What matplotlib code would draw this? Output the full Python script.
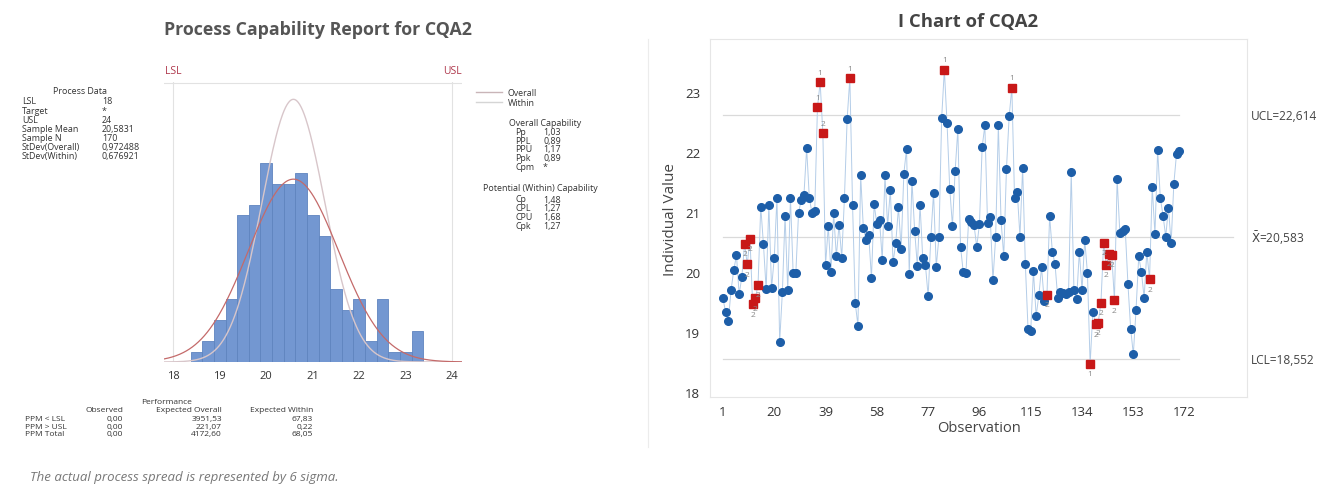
import numpy as np
import matplotlib
matplotlib.use("Agg")
import matplotlib.pyplot as plt

plt.rcParams['font.family'] = ['Open Sans', 'DejaVu Sans']

# --- data ---
# capability histogram
bin_start = 18.375
bin_width = 0.25
hist_counts = [1, 2, 4, 6, 14, 15, 19, 17, 17, 18, 14, 12, 7, 5, 6, 2, 6, 1, 1, 3]
lsl, usl = 18, 24
mean_all = 20.5831
sd_overall = 0.972488
sd_within = 0.676921
n_obs = 170

process_labels = ['LSL', 'Target', 'USL', 'Sample Mean', 'Sample N', 'StDev(Overall)', 'StDev(Within)']
process_values = ['18', '*', '24', '20,5831', '170', '0,972488', '0,676921']
overall_labels = ['Pp', 'PPL', 'PPU', 'Ppk', 'Cpm']
overall_values = ['1,03', '0,89', '1,17', '0,89', '*']
within_labels = ['Cp', 'CPL', 'CPU', 'Cpk']
within_values = ['1,48', '1,27', '1,68', '1,27']
perf_rows = ['PPM < LSL', 'PPM > USL', 'PPM Total']
perf_observed = ['0,00', '0,00', '0,00']
perf_exp_overall = ['3951,53', '221,07', '4172,60']
perf_exp_within = ['67,83', '0,22', '68,05']

# I chart
values = [
    19.56, 19.33, 19.19, 19.70, 20.03, 20.28, 19.63, 19.92, 20.47, 20.13,
    20.55, 19.46, 19.56, 19.79, 21.09, 20.46, 19.71, 21.12, 19.73, 20.24,
    21.24, 18.84, 19.66, 20.94, 19.70, 21.24, 19.98, 19.99, 20.99, 21.20,
    21.29, 22.06, 21.23, 20.98, 21.02, 22.74, 23.16, 22.31, 20.12, 20.76,
    20.00, 20.98, 20.26, 20.79, 20.24, 21.24, 22.55, 23.23, 21.12, 19.48,
    19.11, 21.62, 20.73, 20.53, 20.61, 19.90, 21.13, 20.80, 20.87, 20.20,
    21.61, 20.77, 21.37, 20.16, 20.48, 21.08, 20.39, 21.64, 22.05, 19.97,
    21.52, 20.69, 20.10, 21.12, 20.23, 20.11, 19.60, 20.58, 21.32, 20.09,
    20.58, 22.56, 23.37, 22.48, 21.39, 20.77, 21.69, 22.38, 20.42, 20.00,
    19.98, 20.88, 20.83, 20.78, 20.42, 20.80, 22.08, 22.44, 20.81, 20.91,
    19.86, 20.58, 22.44, 20.86, 20.26, 21.71, 22.59, 23.07, 21.23, 21.34,
    20.59, 21.74, 20.13, 19.05, 19.02, 20.02, 19.27, 19.61, 20.08, 19.52,
    19.62, 20.93, 20.34, 20.13, 19.57, 19.66, 19.65, 19.64, 19.66, 21.66,
    19.70, 19.55, 20.34, 19.70, 20.54, 19.98, 18.47, 19.34, 19.13, 19.16,
    19.49, 20.48, 20.12, 20.30, 20.29, 19.53, 21.55, 20.65, 20.69, 20.72,
    19.80, 19.06, 18.63, 19.37, 20.26, 20.00, 19.57, 20.34, 19.88, 21.42,
    20.63, 22.03, 21.23, 20.94, 20.59, 21.07, 20.48, 21.47, 21.97, 22.02,
]
flag_obs = [9, 10, 11, 12, 13, 14, 36, 37, 38, 48, 83, 108, 121,
            137, 139, 140, 141, 142, 143, 144, 145, 146, 159]
flag_test = ['2', '2', '2', '2', '2', '2', '1', '1', '2', '1', '1', '1', '2',
             '1', '2', '2', '2', '2', '2', '2', '2', '2', '2']
ucl, center, lcl = 22.614, 20.583, 18.552
x_ticks = [1, 20, 39, 58, 77, 96, 115, 134, 153, 172]

W, H = 1328, 489
fig = plt.figure(figsize=(W / 100, H / 100), dpi=100)


def fx(x):
    return x / W


def fy(y):
    return 1 - y / H


txt = '#333333'
small = 6.4

# ---------------- left: capability report ----------------
fig.text(fx(318), fy(30), 'Process Capability Report for CQA2', ha='center', va='center',
         fontsize=12.8, fontweight='bold', color='#555555')

ax1 = fig.add_axes([fx(164), fy(363), fx(461.6) - fx(164), fy(83) - fy(363)])
edges = bin_start + bin_width * np.arange(len(hist_counts))
ax1.bar(edges, hist_counts, width=bin_width, align='edge', color='#7397d1',
        edgecolor='#5f84bf', linewidth=0.6, zorder=2)
xs = np.linspace(17.8, 24.2, 400)
scale = n_obs * bin_width
pdf_within = scale * np.exp(-0.5 * ((xs - mean_all) / sd_within) ** 2) / (sd_within * np.sqrt(2 * np.pi))
pdf_overall = scale * np.exp(-0.5 * ((xs - mean_all) / sd_overall) ** 2) / (sd_overall * np.sqrt(2 * np.pi))
ax1.plot(xs, pdf_within, color='#d8c6ca', lw=1.0, zorder=3)
ax1.plot(xs, pdf_overall, color='#c46a6a', lw=0.9, zorder=3)
for s in [lsl, usl]:
    ax1.axvline(s, color='#e2e2e2', lw=0.8, zorder=1)
ax1.axhline(26.6, color='#e2e2e2', lw=0.8, zorder=1)
ax1.set_xlim(17.8, 24.2)
ax1.set_ylim(0, 26.7)
for sp in ax1.spines.values():
    sp.set_visible(False)
ax1.set_yticks([])
ax1.set_xticks(range(18, 25))
ax1.tick_params(axis='x', length=0, labelsize=8, labelcolor=txt, pad=6)
ax1.text(lsl, 27.3, 'LSL', ha='center', va='bottom', fontsize=7.5, color='#b03a4e')
ax1.text(usl, 27.3, 'USL', ha='center', va='bottom', fontsize=7.5, color='#b03a4e')

# process data block
fig.text(fx(80), fy(92), 'Process Data', ha='center', va='center', fontsize=small, color=txt)
for i, (lab, val) in enumerate(zip(process_labels, process_values)):
    y = 102 + i * 9.1
    fig.text(fx(22), fy(y), lab, ha='left', va='center', fontsize=small, color=txt)
    fig.text(fx(102), fy(y), val, ha='left', va='center', fontsize=small, color=txt)

# legend
fig.lines.append(plt.Line2D([fx(476), fx(502)], [fy(93), fy(93)], transform=fig.transFigure,
                            color='#c9b5b8', lw=1.0))
fig.lines.append(plt.Line2D([fx(476), fx(502)], [fy(103), fy(103)], transform=fig.transFigure,
                            color='#d5d5d5', lw=1.0))
fig.text(fx(508), fy(93), 'Overall', ha='left', va='center', fontsize=small, color=txt)
fig.text(fx(508), fy(103), 'Within', ha='left', va='center', fontsize=small, color=txt)

fig.text(fx(545), fy(123), 'Overall Capability', ha='center', va='center', fontsize=small, color=txt)
for i, (lab, val) in enumerate(zip(overall_labels, overall_values)):
    y = 132.5 + i * 8.7
    fig.text(fx(515), fy(y), lab, ha='left', va='center', fontsize=small, color=txt)
    fig.text(fx(543), fy(y), val, ha='left', va='center', fontsize=small, color=txt)
fig.text(fx(540), fy(188.5), 'Potential (Within) Capability', ha='center', va='center',
         fontsize=small, color=txt)
for i, (lab, val) in enumerate(zip(within_labels, within_values)):
    y = 200 + i * 8.7
    fig.text(fx(516), fy(y), lab, ha='left', va='center', fontsize=small, color=txt)
    fig.text(fx(543), fy(y), val, ha='left', va='center', fontsize=small, color=txt)

# performance table
perf_size = 6.0
fig.text(fx(167), fy(402), 'Performance', ha='center', va='center', fontsize=perf_size, color=txt)
fig.text(fx(123), fy(411), 'Observed', ha='right', va='center', fontsize=perf_size, color=txt)
fig.text(fx(222), fy(411), 'Expected Overall', ha='right', va='center', fontsize=perf_size, color=txt)
fig.text(fx(313), fy(411), 'Expected Within', ha='right', va='center', fontsize=perf_size, color=txt)
for i in range(len(perf_rows)):
    y = 419.5 + i * 7.6
    fig.text(fx(25), fy(y), perf_rows[i], ha='left', va='center', fontsize=perf_size, color=txt)
    fig.text(fx(123), fy(y), perf_observed[i], ha='right', va='center', fontsize=perf_size, color=txt)
    fig.text(fx(222), fy(y), perf_exp_overall[i], ha='right', va='center', fontsize=perf_size, color=txt)
    fig.text(fx(313), fy(y), perf_exp_within[i], ha='right', va='center', fontsize=perf_size, color=txt)

fig.text(fx(30), fy(478), 'The actual process spread is represented by 6 sigma.', ha='left',
         va='center', fontsize=9.5, style='italic', color='#777777')

# ---------------- right: I chart ----------------
fig.text(fx(968), fy(22), 'I Chart of CQA2', ha='center', va='center', fontsize=13.3,
         fontweight='bold', color='#444444')
fig.lines.append(plt.Line2D([fx(648), fx(648)], [fy(40), fy(448)], transform=fig.transFigure,
                            color='#ececec', lw=0.8))

ax2 = fig.add_axes([fx(710), fy(398), fx(1247) - fx(710), fy(40) - fy(398)])
obs = np.arange(1, len(values) + 1)
vals = np.array(values)
fo = np.array(flag_obs)
normal = ~np.isin(obs, fo)
ax2.plot([1, 170], [ucl, ucl], color='#dadada', lw=0.9, zorder=1)
ax2.plot([1, 170], [lcl, lcl], color='#dadada', lw=0.9, zorder=1)
ax2.plot([1, 190], [center, center], color='#dadada', lw=0.9, zorder=1)
ax2.plot(obs, vals, color='#b4cde8', lw=0.7, zorder=2)
ax2.plot(obs[normal], vals[normal], 'o', color='#1d5ea8', markersize=5.5, zorder=3)
ax2.plot(fo, vals[fo - 1], 's', color='#c81818', markersize=5.8, zorder=4)
for o, t in zip(flag_obs, flag_test):
    v = values[o - 1]
    dy = 4.5 if v > center else -4.5
    ax2.annotate(t, (o, v), xytext=(0, dy), textcoords='offset points', ha='center',
                 va='bottom' if dy > 0 else 'top', fontsize=6, color='#888888', zorder=5)

ax2.set_xlim(-3.8, 195.1)
ax2.set_ylim(17.92, 23.88)
ax2.set_xticks(x_ticks)
ax2.set_yticks([18, 19, 20, 21, 22, 23])
ax2.tick_params(length=0, labelsize=9.5, labelcolor=txt)
ax2.tick_params(axis='x', pad=6)
ax2.tick_params(axis='y', pad=7)
for sp in ax2.spines.values():
    sp.set_color('#e6e6e6')
    sp.set_linewidth(0.8)
ax2.set_xlabel('Observation', fontsize=10.5, color='#444444', labelpad=1)
ax2.set_ylabel('Individual Value', fontsize=11, color='#444444', labelpad=5)

ax2.text(1.008, ucl, 'UCL=22,614', transform=ax2.get_yaxis_transform(), ha='left', va='center',
         fontsize=8.6, color='#444444')
ax2.text(1.008, center, r'$\bar{\mathrm{X}}$=20,583', transform=ax2.get_yaxis_transform(),
         ha='left', va='center', fontsize=8.6, color='#444444')
ax2.text(1.008, lcl, 'LCL=18,552', transform=ax2.get_yaxis_transform(), ha='left', va='center',
         fontsize=8.6, color='#444444')

fig.savefig('out.png', dpi=100)
